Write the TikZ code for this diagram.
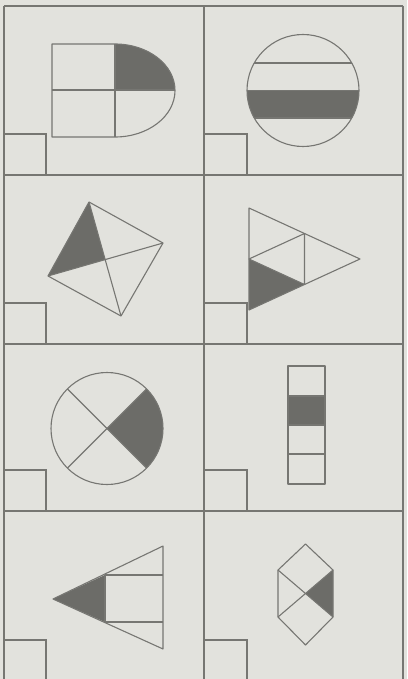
\documentclass[tikz,border=0pt]{standalone}
\usetikzlibrary{calc}
\definecolor{paper}{RGB}{226,226,221}
\definecolor{ln}{RGB}{118,118,114}
\definecolor{shadec}{RGB}{108,108,104}
\begin{document}
\begin{tikzpicture}[x=1pt,y=-1pt,
  gridln/.style={draw=ln, line width=1.4pt},
  shp/.style={draw=ln, line width=1.1pt, line join=round},
  shd/.style={fill=shadec}]
\fill[paper] (0,0) rectangle (407,679);
\useasboundingbox (0,0) rectangle (407,679);
% grid
\draw[gridln] (4,6) -- (403,6);
\draw[gridln] (4,175) -- (403,175);
\draw[gridln] (4,344) -- (403,344);
\draw[gridln] (4,511) -- (404,511);
\draw[gridln] (4,6) -- (4,685);
\draw[gridln] (204,6) -- (204,685);
\draw[gridln] (403,6) -- (403,685);
% small squares
\foreach \yy in {134,303,470,640}{
  \draw[gridln] (4,\yy) -- (46,\yy) -- (46,\yy+41);
  \draw[gridln] (204,\yy) -- (247,\yy) -- (247,\yy+41);
}
% cell 1: D shape
\fill[shd] (115,44) arc[start angle=90,end angle=0,x radius=60pt,y radius=46pt] -- (115,90) -- cycle;
\draw[shp] (115,44) -- (52,44) -- (52,137) -- (115,137)
  arc[start angle=-90,end angle=90,x radius=60pt,y radius=46.5pt] -- cycle;
\draw[shp] (52,90) -- (175,90);
\draw[shp] (115,44) -- (115,137);
% cell 2: circle with strips
\begin{scope}
\clip (303,90.5) circle[radius=56pt];
\fill[shd] (240,90.5) rectangle (370,118);
\draw[shp] (240,63) -- (370,63);
\draw[shp] (240,90.5) -- (370,90.5);
\draw[shp] (240,118) -- (370,118);
\end{scope}
\draw[shp] (303,90.5) circle[radius=56pt];
% cell 3: quadrilateral with diagonals
\coordinate (qt) at (89,202);
\coordinate (qr) at (163,243);
\coordinate (qb) at (121,316);
\coordinate (ql) at (48,276);
\coordinate (qc) at (intersection of qt--qb and ql--qr);
\fill[shd] (qt) -- (ql) -- (qc) -- cycle;
\draw[shp] (qt) -- (qr) -- (qb) -- (ql) -- cycle;
\draw[shp] (qt) -- (qb);
\draw[shp] (ql) -- (qr);
% cell 4: triangle divided in four
\coordinate (ta) at (249,208);
\coordinate (tb) at (360,259);
\coordinate (tc) at (249,310);
\coordinate (m1) at ($(ta)!0.5!(tb)$);
\coordinate (m2) at ($(tb)!0.5!(tc)$);
\coordinate (m3) at ($(ta)!0.5!(tc)$);
\fill[shd] (m3) -- (m2) -- (tc) -- cycle;
\draw[shp] (ta) -- (tb) -- (tc) -- cycle;
\draw[shp] (m1) -- (m2) -- (m3) -- cycle;
% cell 5: circle quartered
\fill[shd] (107,428.5) -- ++(39.6,-39.6) arc[start angle=45,end angle=-45,radius=56pt] -- cycle;
\draw[shp] (107,428.5) circle[radius=56pt];
\draw[shp] (67.4,388.9) -- (146.6,468.1);
\draw[shp] (146.6,388.9) -- (67.4,468.1);
% cell 6: column of four boxes
\fill[shd] (288,396) rectangle (325,425);
\draw[shp] (288,366) rectangle (325,484);
\draw[shp] (288,396) -- (325,396);
\draw[shp] (288,425) -- (325,425);
\draw[shp] (288,454) -- (325,454);
% cell 7: triangle with inner square
\fill[shd] (53,599) -- (105,575) -- (105,622) -- cycle;
\draw[shp] (53,599) -- (163,546) -- (163,649) -- cycle;
\draw[shp] (105,575) -- (163,575);
\draw[shp] (105,622) -- (163,622);
\draw[shp] (105,575) -- (105,622);
% cell 8: hexagon
\coordinate (ht) at (305.5,544);
\coordinate (hur) at (333,570);
\coordinate (hlr) at (333,617);
\coordinate (hb) at (305.5,645);
\coordinate (hll) at (278,617);
\coordinate (hul) at (278,570);
\coordinate (hc) at (305.5,593.5);
\fill[shd] (hur) -- (hc) -- (hlr) -- cycle;
\draw[shp] (ht) -- (hur) -- (hlr) -- (hb) -- (hll) -- (hul) -- cycle;
\draw[shp] (hul) -- (hlr);
\draw[shp] (hll) -- (hur);
\end{tikzpicture}
\end{document}
